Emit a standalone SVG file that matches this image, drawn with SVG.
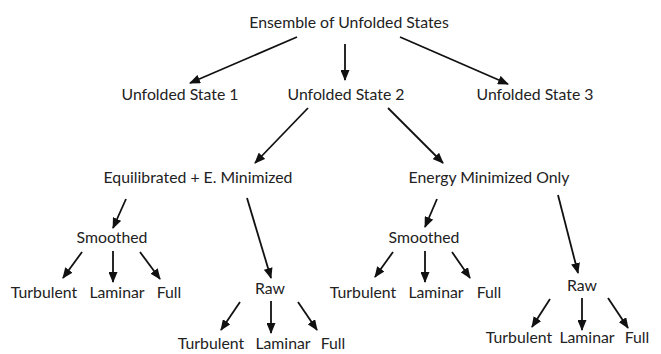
<svg xmlns="http://www.w3.org/2000/svg" width="661" height="354" viewBox="0 0 661 354">
  <defs>
    <marker id="ah" markerUnits="userSpaceOnUse" markerWidth="11" markerHeight="9" refX="10" refY="4.5" orient="auto">
      <path d="M0,0 L11,4.5 L0,9 z" fill="#111"/>
    </marker>
    <style>
      text { font-family: "Lato", "Open Sans", sans-serif; font-size: 15.8px; fill: #222; text-anchor: middle; }
      .c line { stroke: #111; stroke-width: 1.8; marker-end: url(#ah); }
    </style>
  </defs>
  <rect width="661" height="354" fill="#fff"/>
  <g id="root"><text x="349" y="28">Ensemble of Unfolded States</text></g>
  <g id="s1"><text x="180" y="100">Unfolded State 1</text></g>
  <g id="s2"><text x="346" y="100">Unfolded State 2</text></g>
  <g id="s3"><text x="535" y="100">Unfolded State 3</text></g>
  <g id="eq"><text x="198" y="183">Equilibrated + E. Minimized</text></g>
  <g id="em"><text x="489" y="183">Energy Minimized Only</text></g>
  <g id="sm1"><text x="112" y="243">Smoothed</text></g>
  <g id="raw1"><text x="270" y="294">Raw</text></g>
  <g id="sm2"><text x="424" y="243">Smoothed</text></g>
  <g id="raw2"><text x="582" y="291">Raw</text></g>
  <g id="sm1-turb"><text x="44" y="298">Turbulent</text></g>
  <g id="sm1-lam"><text x="117" y="298">Laminar</text></g>
  <g id="sm1-full"><text x="169" y="298">Full</text></g>
  <g id="raw1-turb"><text x="211" y="349">Turbulent</text></g>
  <g id="raw1-lam"><text x="283" y="349">Laminar</text></g>
  <g id="raw1-full"><text x="333" y="349">Full</text></g>
  <g id="sm2-turb"><text x="363" y="298">Turbulent</text></g>
  <g id="sm2-lam"><text x="436" y="298">Laminar</text></g>
  <g id="sm2-full"><text x="489" y="298">Full</text></g>
  <g id="raw2-turb"><text x="519" y="343">Turbulent</text></g>
  <g id="raw2-lam"><text x="587" y="343">Laminar</text></g>
  <g id="raw2-full"><text x="637" y="343">Full</text></g>
  <g id="connectors" class="c">
    <line x1="297" y1="37" x2="190" y2="83"/>
    <line x1="345" y1="44" x2="345" y2="80"/>
    <line x1="400" y1="37" x2="508" y2="84"/>
    <line x1="308" y1="108" x2="255" y2="163"/>
    <line x1="388" y1="108" x2="443" y2="163"/>
    <line x1="126" y1="199" x2="113" y2="228"/>
    <line x1="247" y1="198" x2="271" y2="278"/>
    <line x1="82" y1="252" x2="63" y2="278"/>
    <line x1="113" y1="251" x2="113" y2="282"/>
    <line x1="140" y1="252" x2="160" y2="279"/>
    <line x1="240" y1="302" x2="221" y2="330"/>
    <line x1="271" y1="301" x2="271" y2="333"/>
    <line x1="298" y1="302" x2="317" y2="330"/>
    <line x1="437" y1="199" x2="425" y2="227"/>
    <line x1="558" y1="195" x2="578" y2="273"/>
    <line x1="393" y1="252" x2="375" y2="277"/>
    <line x1="425" y1="251" x2="425" y2="282"/>
    <line x1="452" y1="252" x2="470" y2="278"/>
    <line x1="550" y1="299" x2="532" y2="327"/>
    <line x1="582" y1="298" x2="582" y2="330"/>
    <line x1="608" y1="298" x2="628" y2="328"/>
  </g>
</svg>
